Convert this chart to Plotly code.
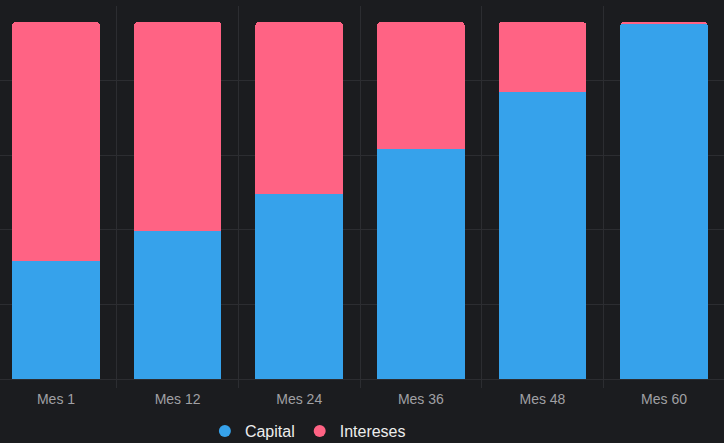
import plotly.graph_objects as go

categories = ["Mes 1", "Mes 12", "Mes 24", "Mes 36", "Mes 48", "Mes 60"]
capital = [791, 992, 1240, 1542, 1924, 2383]
intereses = [1602, 1401, 1153, 851, 469, 10]

BLUE = "#36A2EB"
PINK = "#FF6384"
BG = "#1B1C1F"
GRID = "#2C2D31"

fig = go.Figure()
fig.add_trace(go.Bar(x=categories, y=capital, name="Capital", marker_color=BLUE,
                     marker_line_width=0, width=0.72, showlegend=False))
fig.add_trace(go.Bar(x=categories, y=intereses, name="Intereses", marker_color=PINK,
                     marker_line_width=0, width=0.72, showlegend=False))
# legend entries with circular symbols
fig.add_trace(go.Scatter(x=[None], y=[None], mode="markers", name="Capital",
                         marker=dict(color=BLUE, size=14, symbol="circle")))
fig.add_trace(go.Scatter(x=[None], y=[None], mode="markers", name="Intereses",
                         marker=dict(color=PINK, size=14, symbol="circle")))

fig.update_layout(
    width=724, height=443,
    margin=dict(l=0, r=0, t=6, b=64),
    paper_bgcolor=BG, plot_bgcolor=BG,
    barmode="stack", barcornerradius=4,
    font=dict(family="Liberation Sans, Arial, sans-serif", color="#A0A0A4", size=14),
    legend=dict(orientation="h", x=0.283, xanchor="left",
                yref="container", y=12 / 443, yanchor="middle",
                traceorder="normal",
                font=dict(size=16, color="#EDEDED"), itemsizing="constant",
                bgcolor="rgba(0,0,0,0)"),
    xaxis=dict(range=[-0.4605, 5.493], showgrid=True, gridcolor=GRID, gridwidth=1,
               tickson="boundaries", ticks="outside", ticklen=8, tickcolor=GRID,
               ticklabelstandoff=10, automargin=False,
               showline=False, zeroline=False, fixedrange=True),
    yaxis=dict(range=[0, 2500], dtick=500, showgrid=True, gridcolor=GRID, gridwidth=1,
               showticklabels=False, zeroline=True, zerolinecolor=GRID, zerolinewidth=1,
               showline=False, automargin=False),
)

fig.write_html("out.html", config={"displayModeBar": False},
               post_script="document.body.style.margin='0';document.body.style.background='%s';" % BG)
